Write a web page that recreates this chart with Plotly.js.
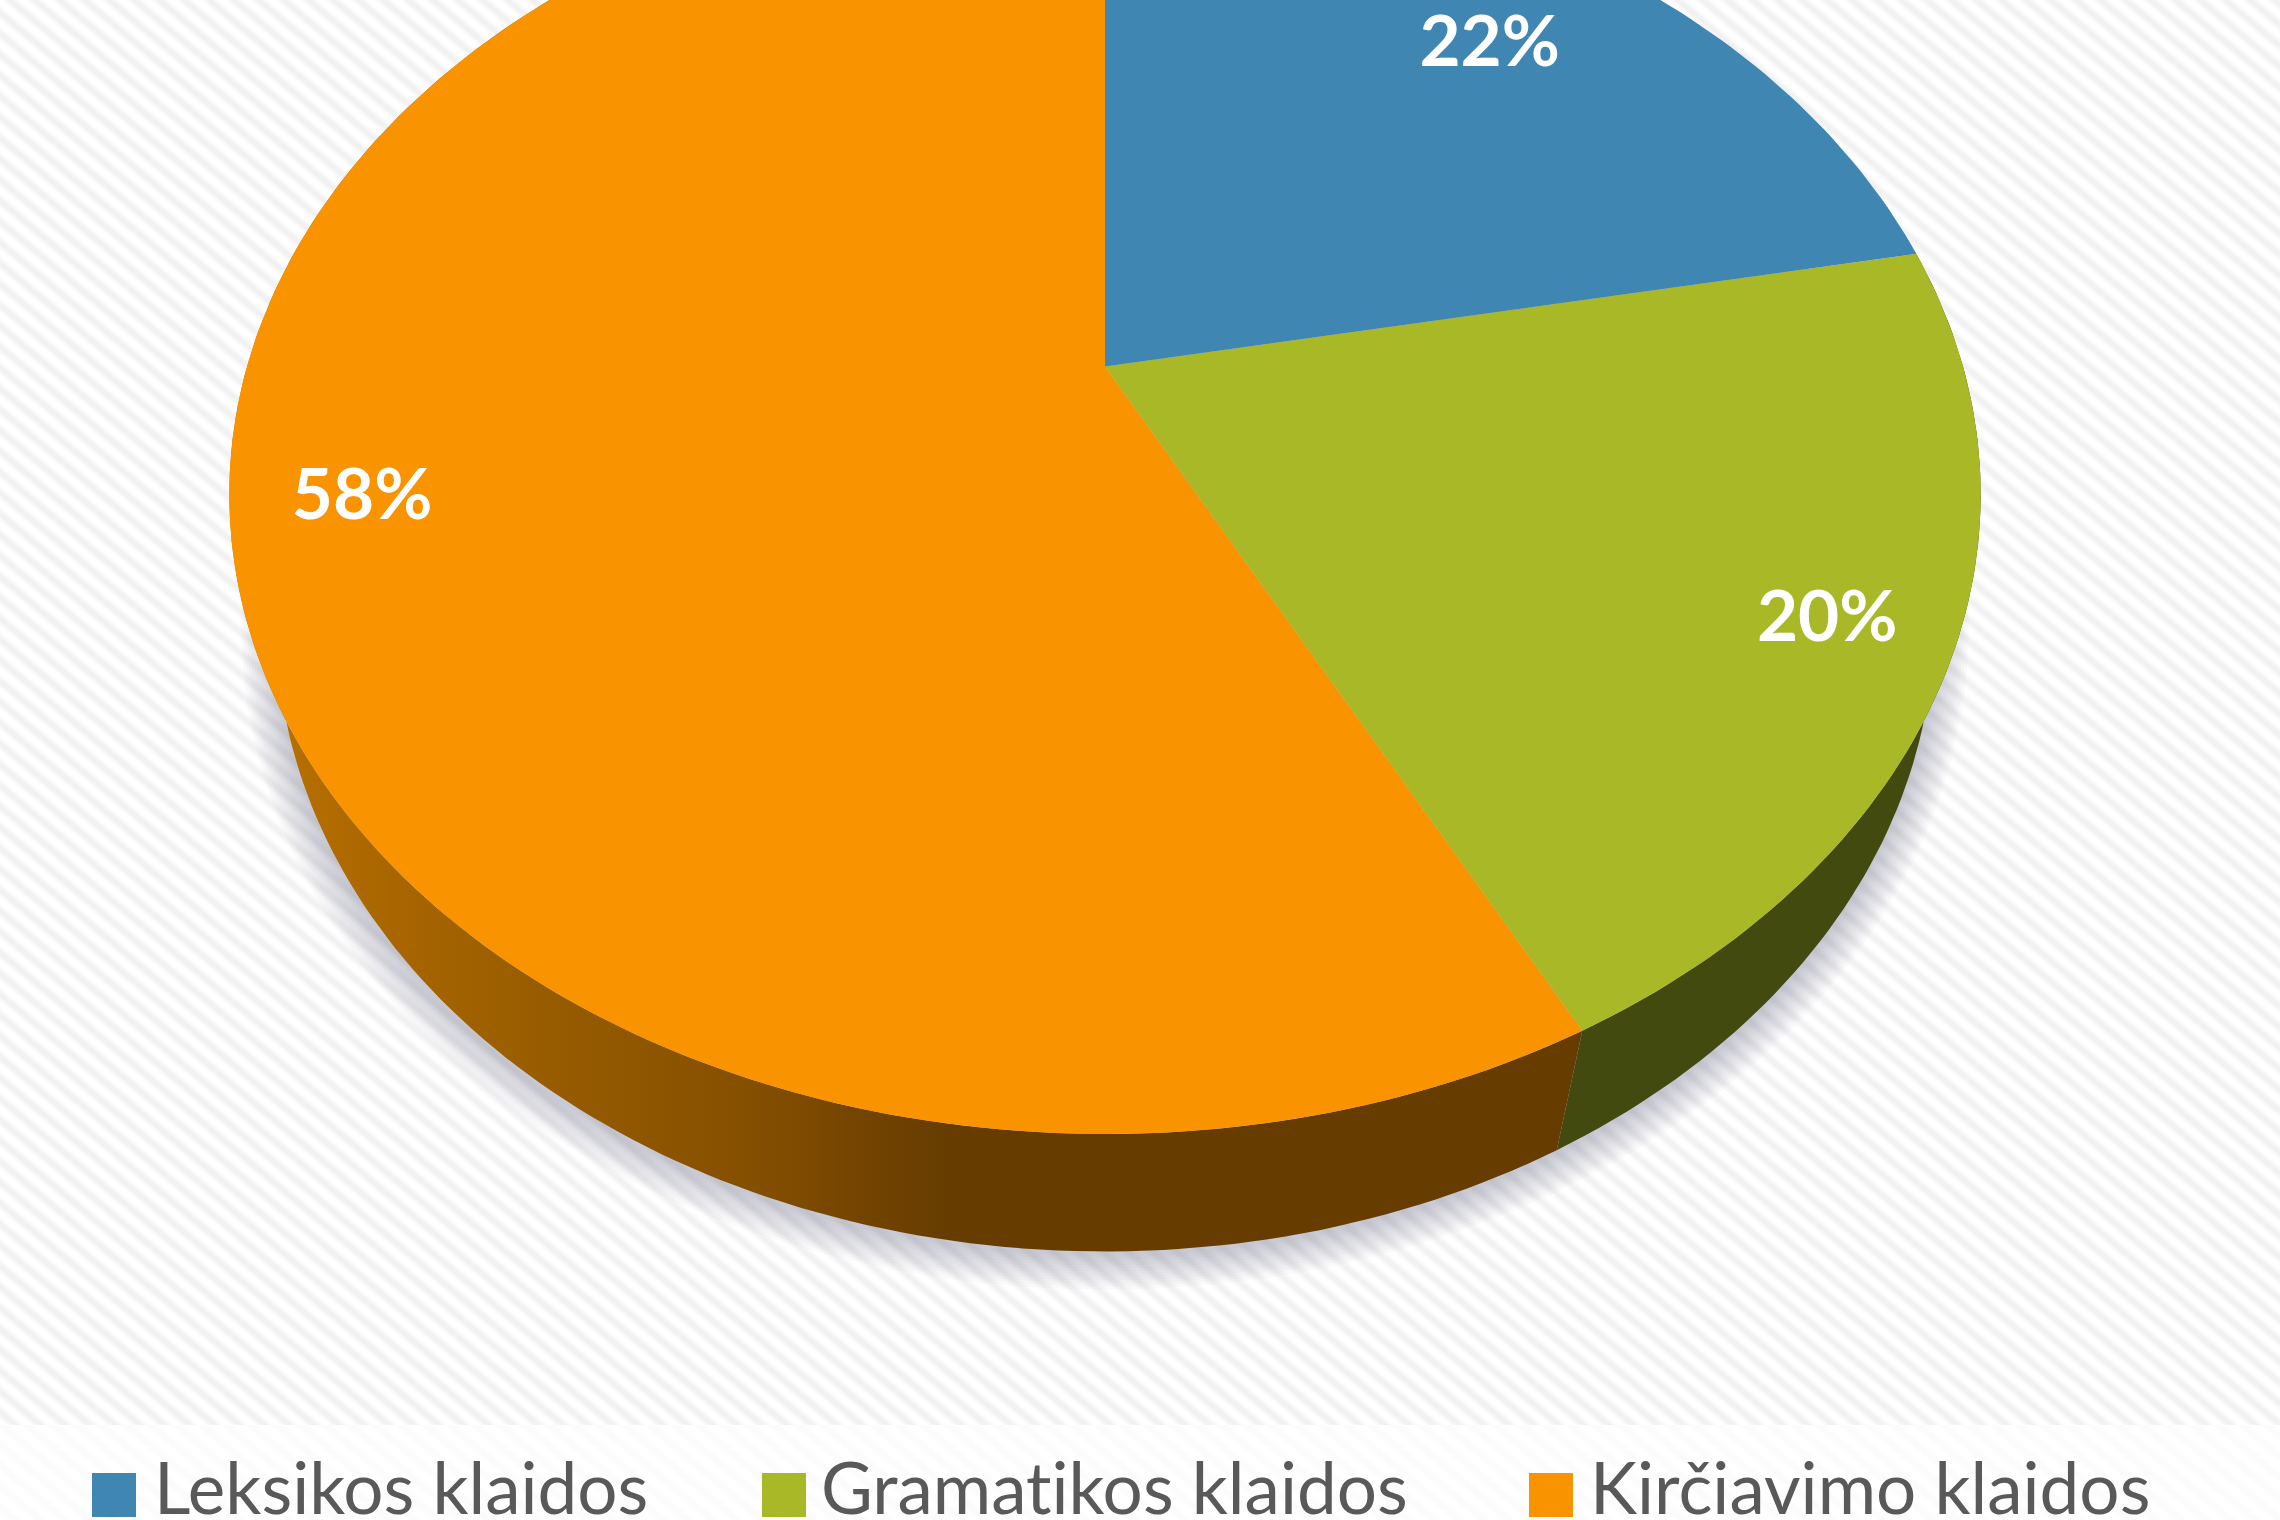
<!DOCTYPE html>
<html>
<head>
<meta charset="utf-8">
<script src="https://cdn.plot.ly/plotly-3.0.1.min.js"></script>
<style>
html,body{margin:0;padding:0;width:2280px;height:1520px;overflow:hidden;background:#fff;}
#bg{position:absolute;left:0;top:0;width:2280px;height:1520px;
 background-image:
  repeating-linear-gradient(40deg,#ffffff 0px,#ffffff 4px,#f1f1f1 9px,#f1f1f1 11px,#ffffff 16px),
  repeating-linear-gradient(40deg,#ffffff 0px,#ffffff 4px,#fbfbfb 9px,#fbfbfb 11px,#ffffff 16px);
 background-size:2280px 1425px,2280px 95px;
 background-position:0 0,0 1425px;
 background-repeat:no-repeat;}
#chart{position:absolute;left:0;top:0;width:2280px;height:1520px;}
#chart text{font-variant-ligatures:none;font-feature-settings:"liga" 0;}
</style>
</head>
<body>
<div id="bg"></div>
<div id="chart"></div>
<script>
// Data
var categories = ["Leksikos klaidos", "Gramatikos klaidos", "Kirčiavimo klaidos"];
var values = [21.95, 20.49, 57.56];
var topColors = ["#3f87b2", "#a9b827", "#f99300"];
var wallColors = ["#25506b", "#434a10", "#663c00"];

// Perspective of the pie (pixel axes)
var K = 0.2;
var TOP = {cx:1105, cy:366.5, t:858, s:614};
var BOT = {cx:1105, cy:499, t:812, s:602};
var labelRadius = [0.775, 0.865, 0.855];
var labelAngleShift = [0.8, 0, 0];
var labelDrop = 6;
var legendY = 1495, legendTextY = 1496;
var swatchX = [114, 784, 1551];
var legendTextX = [154, 821, 1590];

function project(f, deg, r){
  var a = deg*Math.PI/180, x = r*Math.sin(a), y = r*Math.cos(a), d = 1+K*y;
  return [f.cx + f.t*x/d, f.cy - f.s*y/d];
}
function arc(f, a0, a1){
  var pts = [], n = Math.max(2, Math.ceil(Math.abs(a1-a0)));
  for(var i=0;i<=n;i++) pts.push(project(f, a0+(a1-a0)*i/n, 1));
  return pts;
}
function polyTrace(pts, color){
  return {type:'scatter', mode:'lines', x:pts.map(function(p){return p[0];}), y:pts.map(function(p){return p[1];}),
    fill:'toself', fillcolor:color, line:{width:0}, hoverinfo:'skip', showlegend:false};
}

var total = values.reduce(function(a,b){return a+b;},0);
var edges = [0];
values.forEach(function(v){edges.push(edges[edges.length-1]+v/total*360);});

var traces = [];

// soft shadow beneath the wall
for(var g=1;g<=12;g++){
  var grow = 38-3*g;
  var ring = [];
  for(var d=0;d<=360;d+=2){
    var p = project(BOT,d,1);
    var ex = BOT.cx+(p[0]-BOT.cx)*(1+grow/829);
    var ey = 624+(p[1]-624)*(1+grow/627)+3;
    ring.push([ex,ey]);
  }
  traces.push(polyTrace(ring,'rgba(130,135,150,0.04)'));
}

// side walls
[1,2].forEach(function(i){
  var t = arc(TOP,edges[i],edges[i+1]);
  var b = arc(BOT,edges[i+1],edges[i]);
  var tr = polyTrace(t.concat(b,[t[0]]),wallColors[i]);
  if(i===2){
    delete tr.fillcolor;
    tr.fillgradient = {type:'horizontal', start:230, stop:1560,
      colorscale:[[0,'#bd7300'],[0.128,'#a86500'],[0.203,'#9c5f00'],[0.391,'#854f00'],[0.541,'#663c00'],[1,'#663c00']]};
  }
  traces.push(tr);
});

// top face
[2,1,0].forEach(function(i){
  var a = arc(TOP,edges[i],edges[i+1]);
  var tip = [TOP.cx,TOP.cy];
  traces.push(polyTrace([tip].concat(a,[tip]),topColors[i]));
});

// percentage labels
var lab = values.map(function(v,i){return project(TOP,(edges[i]+edges[i+1])/2+labelAngleShift[i],labelRadius[i]);});
traces.push({type:'scatter',mode:'text',
  x:lab.map(function(p){return p[0];}),y:lab.map(function(p){return p[1]+labelDrop;}),
  text:values.map(function(v){return Math.round(v)+'%';}),textposition:'middle center',
  textfont:{family:'Lato, Carlito, sans-serif',size:71,color:'#ffffff',weight:700},
  hoverinfo:'skip',showlegend:false,cliponaxis:false});

// legend
traces.push({type:'scatter',mode:'markers',x:swatchX,y:swatchX.map(function(){return legendY;}),
  marker:{symbol:'square',size:44,color:topColors,line:{width:0}},hoverinfo:'skip',showlegend:false,cliponaxis:false});
traces.push({type:'scatter',mode:'text',x:legendTextX,y:legendTextX.map(function(){return legendTextY;}),
  text:categories,textposition:'middle right',
  textfont:{family:'Lato, Carlito, sans-serif',size:71,color:'#595959'},
  hoverinfo:'skip',showlegend:false,cliponaxis:false});

Plotly.newPlot('chart',traces,{
  width:2280,height:1520,autosize:false,
  margin:{l:0,r:0,t:0,b:0,pad:0},
  paper_bgcolor:'rgba(0,0,0,0)',plot_bgcolor:'rgba(0,0,0,0)',
  xaxis:{range:[0,2280],visible:false,fixedrange:true},
  yaxis:{range:[1520,0],visible:false,fixedrange:true},
  showlegend:false
},{displayModeBar:false,staticPlot:true});
</script>
</body>
</html>
